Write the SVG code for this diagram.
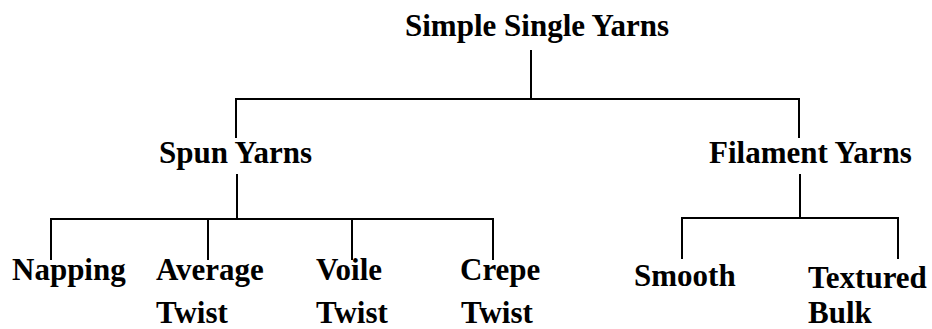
<svg xmlns="http://www.w3.org/2000/svg" width="932" height="329" viewBox="0 0 932 329">
<style>
text{font-family:"Liberation Serif","Times New Roman",serif;font-weight:bold;font-size:31px;fill:#000}
.c line{stroke:#000;stroke-width:2;fill:none}
</style>
<rect width="932" height="329" fill="#fff"/>
<g class="c" id="connectors">
<line x1="531" y1="50" x2="531" y2="99"/>
<line x1="235" y1="99" x2="800" y2="99"/>
<line x1="236" y1="98" x2="236" y2="138"/>
<line x1="799" y1="98" x2="799" y2="138"/>
<line x1="237" y1="174" x2="237" y2="219"/>
<line x1="50" y1="219" x2="494" y2="219"/>
<line x1="51" y1="218" x2="51" y2="260"/>
<line x1="208" y1="218" x2="208" y2="260"/>
<line x1="352" y1="218" x2="352" y2="260"/>
<line x1="493" y1="218" x2="493" y2="260"/>
<line x1="800" y1="174" x2="800" y2="218"/>
<line x1="681" y1="218" x2="899" y2="218"/>
<line x1="682" y1="217" x2="682" y2="259"/>
<line x1="898" y1="217" x2="898" y2="259"/>
</g>
<g id="root"><text x="405" y="36">Simple Single Yarns</text></g>
<g id="spun"><text x="159" y="163">Spun Yarns</text></g>
<g id="filament"><text x="709" y="163">Filament Yarns</text></g>
<g id="napping"><text x="12" y="280">Napping</text></g>
<g id="average"><text x="156" y="280">Average</text><text x="156" y="323">Twist</text></g>
<g id="voile"><text x="316" y="280">Voile</text><text x="316" y="323">Twist</text></g>
<g id="crepe"><text x="460" y="280">Crepe</text><text x="461" y="323">Twist</text></g>
<g id="smooth"><text x="634" y="286">Smooth</text></g>
<g id="textured"><text x="808" y="288">Textured</text><text x="808" y="323">Bulk</text></g>
</svg>
